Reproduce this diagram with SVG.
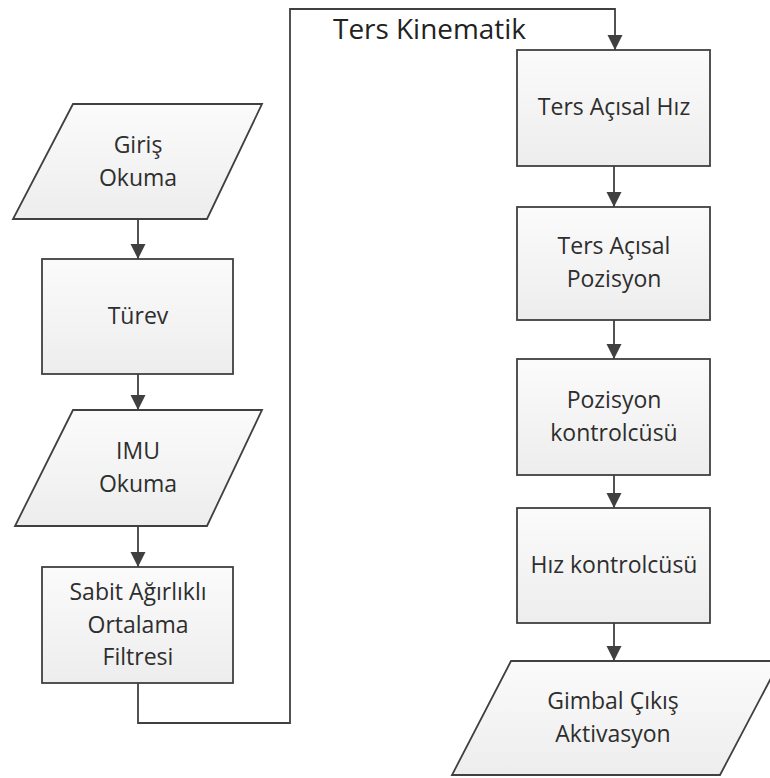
<svg xmlns="http://www.w3.org/2000/svg" width="770" height="778" viewBox="0 0 770 778">
<style>
.node{stroke:#404040;stroke-width:1.8;fill:url(#g)}
.lbl{font-family:"Open Sans","Noto Sans",sans-serif;font-size:23px;fill:#2e2e2e;text-anchor:middle}
.title{font-family:"Open Sans","Noto Sans",sans-serif;font-size:27px;fill:#222}
.con{stroke:#404040;stroke-width:1.8;fill:none;marker-end:url(#ah)}
</style>
<defs>
<linearGradient id="g" x1="0" y1="0" x2="0" y2="1">
<stop offset="0" stop-color="#fbfbfb"/>
<stop offset="1" stop-color="#ededed"/>
</linearGradient>
<marker id="ah" markerUnits="userSpaceOnUse" markerWidth="15" markerHeight="16" refX="15" refY="7.5" orient="auto" viewBox="0 0 15 15">
<path d="M0,0 L15,7.5 L0,15 z" fill="#404040"/>
</marker>
</defs>
<rect width="770" height="778" fill="#fff"/>
<g id="connectors">
<path class="con" d="M138,219 V259"/>
<path class="con" d="M138,374 V410"/>
<path class="con" d="M138,526 V567"/>
<path class="con" d="M138,683 V723 H290 V9 H615 V50"/>
<path class="con" d="M614,166 V207"/>
<path class="con" d="M614,320 V359"/>
<path class="con" d="M614,475 V508"/>
<path class="con" d="M614,623 V661"/>
</g>
<text class="title" x="333" y="39" textLength="193" lengthAdjust="spacingAndGlyphs">Ters Kinematik</text>
<g id="giris">
<polygon class="node" points="73,104 262,104 207,219 13,219"/>
<text class="lbl" x="138" y="153">Giriş</text>
<text class="lbl" x="138" y="186">Okuma</text>
</g>
<g id="turev">
<rect class="node" x="42" y="259" width="191" height="115"/>
<text class="lbl" x="138" y="324">Türev</text>
</g>
<g id="imu">
<polygon class="node" points="73,410 262,410 207,526 15,526"/>
<text class="lbl" x="138" y="459">IMU</text>
<text class="lbl" x="138" y="492">Okuma</text>
</g>
<g id="sabit">
<rect class="node" x="42" y="567" width="191" height="116"/>
<text class="lbl" x="138" y="600">Sabit Ağırlıklı</text>
<text class="lbl" x="138" y="633">Ortalama</text>
<text class="lbl" x="138" y="665">Filtresi</text>
</g>
<g id="tersHiz">
<rect class="node" x="517" y="50" width="193" height="116"/>
<text class="lbl" x="614" y="115">Ters Açısal Hız</text>
</g>
<g id="tersPoz">
<rect class="node" x="517" y="207" width="193" height="113"/>
<text class="lbl" x="614" y="254">Ters Açısal</text>
<text class="lbl" x="614" y="287">Pozisyon</text>
</g>
<g id="pozKontrol">
<rect class="node" x="517" y="359" width="193" height="116"/>
<text class="lbl" x="614" y="408">Pozisyon</text>
<text class="lbl" x="614" y="441">kontrolcüsü</text>
</g>
<g id="hizKontrol">
<rect class="node" x="517" y="508" width="193" height="115"/>
<text class="lbl" x="614" y="573">Hız kontrolcüsü</text>
</g>
<g id="gimbal">
<polygon class="node" points="511,661 780,661 720,775 452,775"/>
<text class="lbl" x="613" y="709">Gimbal Çıkış</text>
<text class="lbl" x="613" y="742">Aktivasyon</text>
</g>
</svg>
